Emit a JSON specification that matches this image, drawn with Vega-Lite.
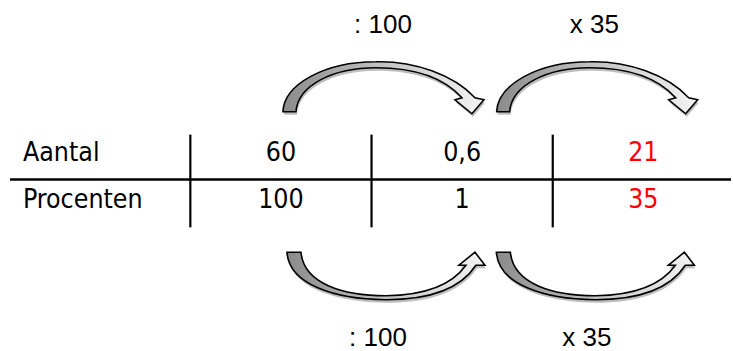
{
  "$schema": "https://vega.github.io/schema/vega-lite/v6.json",
  "width": 733,
  "height": 351,
  "autosize": {"type": "fit", "contains": "padding"},
  "padding": 0,
  "background": "white",
  "config": {"view": {"stroke": null}},
  "datasets": {
    "rijen": [
      {"rij": 0, "kolom": -0.424, "label": "Aantal"},
      {"rij": 1, "kolom": -0.424, "label": "Procenten"}
    ],
    "cellen": [
      {"rij": 0, "kolom": 1, "waarde": "60", "soort": "gegeven"},
      {"rij": 0, "kolom": 2, "waarde": "0,6", "soort": "gegeven"},
      {"rij": 0, "kolom": 3, "waarde": "21", "soort": "uitkomst"},
      {"rij": 1, "kolom": 1, "waarde": "100", "soort": "gegeven"},
      {"rij": 1, "kolom": 2, "waarde": "1", "soort": "gegeven"},
      {"rij": 1, "kolom": 3, "waarde": "35", "soort": "uitkomst"}
    ],
    "horizontaal": [
      {"kolom": -0.4953, "kolom2": 3.4838, "rij": 0.396}
    ],
    "verticaal": [
      {"kolom": 0.5, "rij": -0.5417, "rij2": 1.3958},
      {"kolom": 1.5, "rij": -0.5417, "rij2": 1.3958},
      {"kolom": 2.5, "rij": -0.5417, "rij2": 1.3958}
    ],
    "bewerkingen": [
      {"kant": "boven", "kolom": 1.563, "rij": -2.667, "tekst": ": 100"},
      {"kant": "boven", "kolom": 2.730, "rij": -2.667, "tekst": "x 35"},
      {"kant": "onder", "kolom": 1.5355, "rij": 3.865, "tekst": ": 100"},
      {"kant": "onder", "kolom": 2.6885, "rij": 3.865, "tekst": "x 35"}
    ],
    "pijlen": [
      {"kant": "boven", "kolom": 1.563, "rij": -1.5},
      {"kant": "boven", "kolom": 2.7424, "rij": -1.5},
      {"kant": "onder", "kolom": 1.5795, "rij": 2.4167},
      {"kant": "onder", "kolom": 2.7353, "rij": 2.4167}
    ]
  },
  "layer": [
    {
      "data": {"name": "pijlen"},
      "mark": {"type": "point", "filled": true, "size": 4, "opacity": 0.75, "fill": "#a8a8a8", "strokeWidth": 0, "xOffset": 1, "yOffset": 3},
      "encoding": {
        "x": {"field": "kolom", "type": "quantitative", "axis": null, "scale": {"domain": [-0.5504, 3.4838], "nice": false, "zero": false}},
        "y": {"field": "rij", "type": "quantitative", "axis": null, "scale": {"domain": [-3.3542, 3.9583], "nice": false, "zero": false, "reverse": true}},
        "shape": {"field": "kant", "type": "nominal", "legend": null, "scale": {"domain": ["boven", "onder"], "range": [
          "M -100 23 C -99 -4 -59 -27 -7 -27 C 31 -28 71 -14 92 9 L 101 11 L 89 25 L 72 11 L 79 9 C 61 -11 31 -21 -7 -21 C -49 -21 -85 -4 -87 23 Z",
          "M -99 -24 C -97 8 -52 23 0 23.5 C 38 23.5 73 15 90 -11 L 99 -11 L 89 -24 L 73 -11 L 80 -11 C 65 10 38 19 0 19.5 C -42 19.5 -82 8 -85 -24 Z"
        ]}}
      }
    },
    {
      "data": {"name": "pijlen"},
      "mark": {"type": "point", "filled": true, "size": 4, "opacity": 1, "stroke": "#000000", "strokeWidth": 1.6, "strokeJoin": "miter",
        "fill": {"gradient": "linear", "x1": 0, "y1": 0, "x2": 1, "y2": 0, "stops": [{"offset": 0, "color": "#8a8a8a"}, {"offset": 0.5, "color": "#c4c4c4"}, {"offset": 1, "color": "#f4f4f4"}]}},
      "encoding": {
        "x": {"field": "kolom", "type": "quantitative"},
        "y": {"field": "rij", "type": "quantitative"},
        "shape": {"field": "kant", "type": "nominal", "legend": null}
      }
    },
    {
      "data": {"name": "horizontaal"},
      "mark": {"type": "rule", "color": "#000000", "strokeWidth": 2.5},
      "encoding": {
        "x": {"field": "kolom", "type": "quantitative"},
        "x2": {"field": "kolom2"},
        "y": {"field": "rij", "type": "quantitative"}
      }
    },
    {
      "data": {"name": "verticaal"},
      "mark": {"type": "rule", "color": "#000000", "strokeWidth": 2.2},
      "encoding": {
        "x": {"field": "kolom", "type": "quantitative"},
        "y": {"field": "rij", "type": "quantitative"},
        "y2": {"field": "rij2"}
      }
    },
    {
      "data": {"name": "rijen"},
      "mark": {"type": "text", "align": "left", "baseline": "alphabetic", "font": "DejaVu Sans Condensed, DejaVu Sans", "fontSize": 26.5, "color": "#000000"},
      "encoding": {
        "x": {"field": "kolom", "type": "quantitative"},
        "y": {"field": "rij", "type": "quantitative"},
        "text": {"field": "label"}
      }
    },
    {
      "data": {"name": "cellen"},
      "mark": {"type": "text", "align": "center", "baseline": "alphabetic", "font": "DejaVu Sans Condensed, DejaVu Sans", "fontSize": 26.5},
      "encoding": {
        "x": {"field": "kolom", "type": "quantitative"},
        "y": {"field": "rij", "type": "quantitative"},
        "text": {"field": "waarde"},
        "color": {"field": "soort", "type": "nominal", "legend": null, "scale": {"domain": ["gegeven", "uitkomst"], "range": ["#000000", "#ff0000"]}}
      }
    },
    {
      "data": {"name": "bewerkingen"},
      "mark": {"type": "text", "align": "center", "baseline": "alphabetic", "font": "Liberation Sans, Arial", "fontSize": 26, "color": "#000000"},
      "encoding": {
        "x": {"field": "kolom", "type": "quantitative"},
        "y": {"field": "rij", "type": "quantitative"},
        "text": {"field": "tekst"}
      }
    }
  ]
}
